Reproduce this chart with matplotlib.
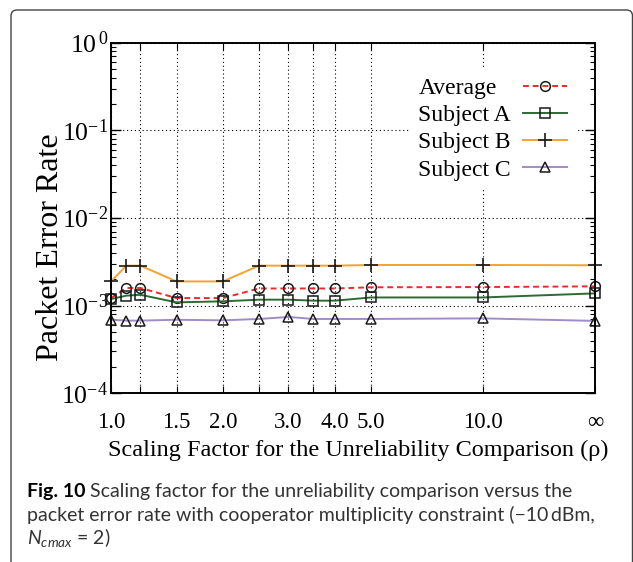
import matplotlib
matplotlib.use("Agg")
import matplotlib.pyplot as plt
from matplotlib.patches import FancyBboxPatch
from matplotlib.transforms import IdentityTransform
from matplotlib.ticker import LogLocator, NullFormatter

plt.rcParams['mathtext.fontset'] = 'custom'
plt.rcParams['mathtext.rm'] = 'Liberation Serif'
plt.rcParams['mathtext.it'] = 'Lato:italic'

# данные (значение "inf" отрисовано в точке 20)
rho = [1.0, 1.1, 1.2, 1.5, 2.0, 2.5, 3.0, 3.5, 4.0, 5.0, 10.0, 20.0]
average = [1.22e-3, 1.59e-3, 1.59e-3, 1.22e-3, 1.22e-3, 1.57e-3, 1.57e-3, 1.57e-3, 1.57e-3, 1.62e-3, 1.63e-3, 1.66e-3]
subj_a = [1.19e-3, 1.30e-3, 1.33e-3, 1.09e-3, 1.12e-3, 1.17e-3, 1.17e-3, 1.14e-3, 1.14e-3, 1.24e-3, 1.24e-3, 1.38e-3]
subj_b = [1.89e-3, 2.86e-3, 2.86e-3, 1.89e-3, 1.89e-3, 2.86e-3, 2.86e-3, 2.86e-3, 2.86e-3, 2.91e-3, 2.91e-3, 2.89e-3]
subj_c = [6.9e-4, 6.75e-4, 6.75e-4, 6.9e-4, 6.8e-4, 7.05e-4, 7.43e-4, 7.05e-4, 7.05e-4, 7.05e-4, 7.16e-4, 6.7e-4]

xticks = [1.0, 1.2, 1.5, 2.0, 2.5, 3.0, 3.5, 4.0, 5.0, 10.0, 20.0]
xticklabels = ['1.0', '', '1.5', '2.0', '', '3.0', '', '4.0', '5.0', '10.0', '\u221e']
yticks = [1e-4, 1e-3, 1e-2, 1e-1, 1e0]
yticklabels = [r'$\mathrm{10^{-4}}$', r'$\mathrm{10^{-3}}$', r'$\mathrm{10^{-2}}$',
               r'$\mathrm{10^{-1}}$', r'$\mathrm{10^{\,0}}$']

W, H = 633, 562
fig = plt.figure(figsize=(W / 100, H / 100), dpi=100)

# рамка вокруг рисунка
frame = FancyBboxPatch((11, -20), 621.5, 562 - 10 + 20, boxstyle='round,pad=0,rounding_size=6',
                       transform=IdentityTransform(), facecolor='none', edgecolor='#444444',
                       linewidth=1.0, zorder=-1)
fig.patches.append(frame)

ax = fig.add_axes([111 / W, 1 - 393.3 / H, 484 / W, 350.6 / H])
ax.set_xscale('log')
ax.set_yscale('log')

serif = 'Liberation Serif'
edge = '#1a1a1a'

ax.plot(rho, average, color='#ee2a2a', lw=1.4, dashes=(3, 2), marker='o', ms=7,
        mfc='none', mec=edge, mew=1.1, label='Average', clip_on=False, zorder=5)
ax.plot(rho, subj_a, color='#2d6b33', lw=1.4, marker='s', ms=6.5,
        mfc='none', mec=edge, mew=1.1, label='Subject A', clip_on=False, zorder=5)
ax.plot(rho, subj_b, color='#f5a232', lw=1.4, marker='+', ms=10,
        mec=edge, mew=1.2, label='Subject B', clip_on=False, zorder=5)
ax.plot(rho, subj_c, color='#a08cc8', lw=1.4, marker='^', ms=7,
        mfc='none', mec=edge, mew=1.1, label='Subject C', clip_on=False, zorder=5)

ax.set_xlim(1.0, 20.0)
ax.set_ylim(1e-4, 1e0)

ax.set_xticks(xticks)
ax.set_xticklabels(xticklabels, fontfamily=serif, fontsize=16.5)
ax.xaxis.set_minor_locator(matplotlib.ticker.NullLocator())
ax.set_yticks(yticks)
ax.set_yticklabels(yticklabels, fontsize=18.5)
ax.yaxis.set_minor_locator(LogLocator(base=10, subs=range(2, 10)))
ax.yaxis.set_minor_formatter(NullFormatter())

ax.tick_params(axis='both', which='both', direction='in', top=True, right=True, color='black')
ax.tick_params(axis='x', which='major', length=5, width=0.8, pad=13.5)
ax.tick_params(axis='y', which='major', length=7, width=1.0, pad=2)
ax.tick_params(axis='y', which='minor', length=3.5, width=0.8)

ax.grid(True, which='major', linestyle=(0, (1, 2.5)), color='black', linewidth=0.8)
for s in ax.spines.values():
    s.set_linewidth(1.4)
    s.set_zorder(6)

ax.set_xlabel('Scaling Factor for the Unreliability Comparison (\u03c1)', fontfamily=serif, fontsize=17.5,
              va='center')
ax.xaxis.set_label_coords(0.51, -0.162)
ax.set_ylabel('Packet Error Rate', fontfamily=serif, fontsize=23, va='center')
ax.yaxis.set_label_coords(-0.126, 0.417)

leg = ax.legend(loc='upper right', bbox_to_anchor=(576 / W, 1 - 68 / H), bbox_transform=fig.transFigure,
                markerfirst=False, prop={'family': serif, 'size': 17}, frameon=True, fancybox=False,
                facecolor='white', edgecolor='none', framealpha=1, handlelength=1.85,
                handletextpad=0.5, labelspacing=0.24, borderpad=0.4, borderaxespad=0)
leg.set_zorder(7)

# подписи легенды выровнены по левому краю, образцы линий - в одном столбце
renderer = fig.canvas.get_renderer()
widths = [t.get_window_extent(renderer).width for t in leg.texts]
column = leg._legend_handle_box.get_children()[0]
column.align = 'left'
for row, w in zip(column.get_children(), widths):
    row.sep += (max(widths) - w) * 72 / fig.dpi

# подпись к рисунку
cap_font = ['Lato', 'DejaVu Sans']
x0 = 27 / W
t = fig.text(x0, (H - 497) / H, 'Fig. 10', fontfamily=cap_font, fontweight='bold', fontsize=14,
             color='black', va='baseline')
bw = t.get_window_extent(renderer).width
fig.text(x0 + (bw + 5) / W, (H - 497) / H, 'Scaling factor for the unreliability comparison versus the',
         fontfamily=cap_font, fontsize=14, color='#333333', va='baseline')
fig.text(x0, (H - 520.5) / H, 'packet error rate with cooperator multiplicity constraint (\u221210\u2009dBm,',
         fontfamily=cap_font, fontsize=14, color='#333333', va='baseline')
fig.text(x0, (H - 544) / H, r'$N_{cmax}$ = 2)', fontfamily=cap_font, fontsize=14, color='#333333',
         va='baseline')

fig.savefig('out.png', dpi=100)
